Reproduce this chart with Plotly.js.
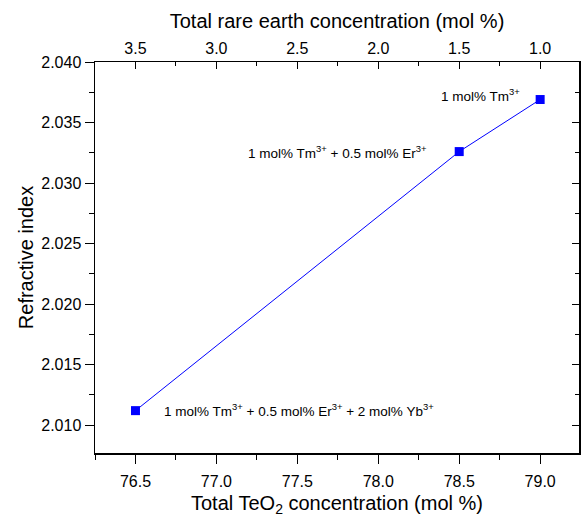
<!DOCTYPE html>
<html>
<head>
<meta charset="utf-8">
<script src="https://cdn.plot.ly/plotly-3.0.1.min.js"></script>
<style>html,body{margin:0;padding:0;background:#fff;}#chart{width:581px;height:517px;}</style>
</head>
<body>
<div id="chart"></div>
<script>
// Data
const teo2 = [76.5, 78.5, 79.0];              // Total TeO2 concentration (mol %)
const rareEarth = [3.5, 1.5, 1.0];            // Total rare earth concentration (mol %)
const refractiveIndex = [2.0112, 2.0326, 2.0369];
const labels = [
  "1 mol% Tm<sup>3+</sup> + 0.5 mol% Er<sup>3+</sup> + 2 mol% Yb<sup>3+</sup>",
  "1 mol% Tm<sup>3+</sup> + 0.5 mol% Er<sup>3+</sup>",
  "1 mol% Tm<sup>3+</sup>"
];

const FONT = "Liberation Sans, Arial, sans-serif";
const xRange = [76.25, 79.24];
const yRange = [2.0077, 2.040];

const traces = [
  {
    x: teo2, y: refractiveIndex, type: "scatter", mode: "lines+markers",
    line: {color: "#0000ff", width: 1},
    marker: {symbol: "square", size: 9, color: "#0000ff"},
    xaxis: "x", yaxis: "y", hoverinfo: "x+y"
  },
  {
    x: rareEarth, y: refractiveIndex, type: "scatter", mode: "lines",
    line: {color: "rgba(0,0,0,0)", width: 0},
    xaxis: "x2", yaxis: "y2", hoverinfo: "skip", showlegend: false
  }
];

const layout = {
  width: 581, height: 517,
  margin: {l: 95, r: 2, t: 62, b: 64},
  paper_bgcolor: "#fff", plot_bgcolor: "#fff",
  showlegend: false,
  font: {family: FONT, size: 16, color: "#000"},
  xaxis: {
    range: xRange, dtick: 0.5, tick0: 0, tickformat: ".1f",
    ticks: "outside", ticklen: 9, tickwidth: 1, tickcolor: "#000",
    ticklabelstandoff: 4,
    minor: {dtick: 0.25, tick0: 0, ticks: "outside", ticklen: 5, tickcolor: "#000", showgrid: false},
    showline: true, linecolor: "#000", linewidth: 1.5,
    showgrid: false, zeroline: false,
    tickfont: {family: FONT, size: 16},
    title: {text: "Total TeO<sub>2</sub> concentration (mol %)", font: {family: FONT, size: 20}, standoff: 14}
  },
  xaxis2: {
    overlaying: "x", side: "top", anchor: "y",
    range: [80 - xRange[0], 80 - xRange[1]], dtick: 0.5, tick0: 0, tickformat: ".1f",
    ticks: "inside", ticklen: 7, tickwidth: 1, tickcolor: "#000",
    minor: {dtick: 0.25, tick0: 0, ticks: "inside", ticklen: 4, tickcolor: "#000", showgrid: false},
    showline: true, linecolor: "#000", linewidth: 1.5,
    showgrid: false, zeroline: false,
    tickfont: {family: FONT, size: 16},
    title: {text: "Total rare earth concentration (mol %)", font: {family: FONT, size: 20}, standoff: 6}
  },
  yaxis: {
    range: yRange, dtick: 0.005, tick0: 2.0, tickformat: ".3f",
    ticks: "outside", ticklen: 9, tickwidth: 1, tickcolor: "#000",
    minor: {dtick: 0.0025, tick0: 2.0, ticks: "outside", ticklen: 5, tickcolor: "#000", showgrid: false},
    showline: true, linecolor: "#000", linewidth: 1.5,
    showgrid: false, zeroline: false,
    tickfont: {family: FONT, size: 16},
    title: {text: "Refractive index", font: {family: FONT, size: 20}, standoff: 2}
  },
  yaxis2: {
    overlaying: "y", side: "right", anchor: "x",
    range: yRange, dtick: 0.005, tick0: 2.0,
    ticks: "inside", ticklen: 7, tickwidth: 1, tickcolor: "#000",
    minor: {dtick: 0.0025, tick0: 2.0, ticks: "inside", ticklen: 4, tickcolor: "#000", showgrid: false},
    showticklabels: false,
    showline: true, linecolor: "#000", linewidth: 1.5,
    showgrid: false, zeroline: false
  },
  annotations: [
    {x: 76.664, y: 2.01124, xref: "x", yref: "y", text: labels[0], showarrow: false,
     xanchor: "left", yanchor: "middle", font: {family: FONT, size: 13.5, color: "#000"}},
    {x: 78.312, y: 2.03254, xref: "x", yref: "y", text: labels[1], showarrow: false,
     xanchor: "right", yanchor: "middle", font: {family: FONT, size: 13.5, color: "#000"}},
    {x: 78.886, y: 2.0373, xref: "x", yref: "y", text: labels[2], showarrow: false,
     xanchor: "right", yanchor: "middle", font: {family: FONT, size: 13.5, color: "#000"}}
  ]
};

Plotly.newPlot("chart", traces, layout, {displayModeBar: false, staticPlot: true});
</script>
</body>
</html>
